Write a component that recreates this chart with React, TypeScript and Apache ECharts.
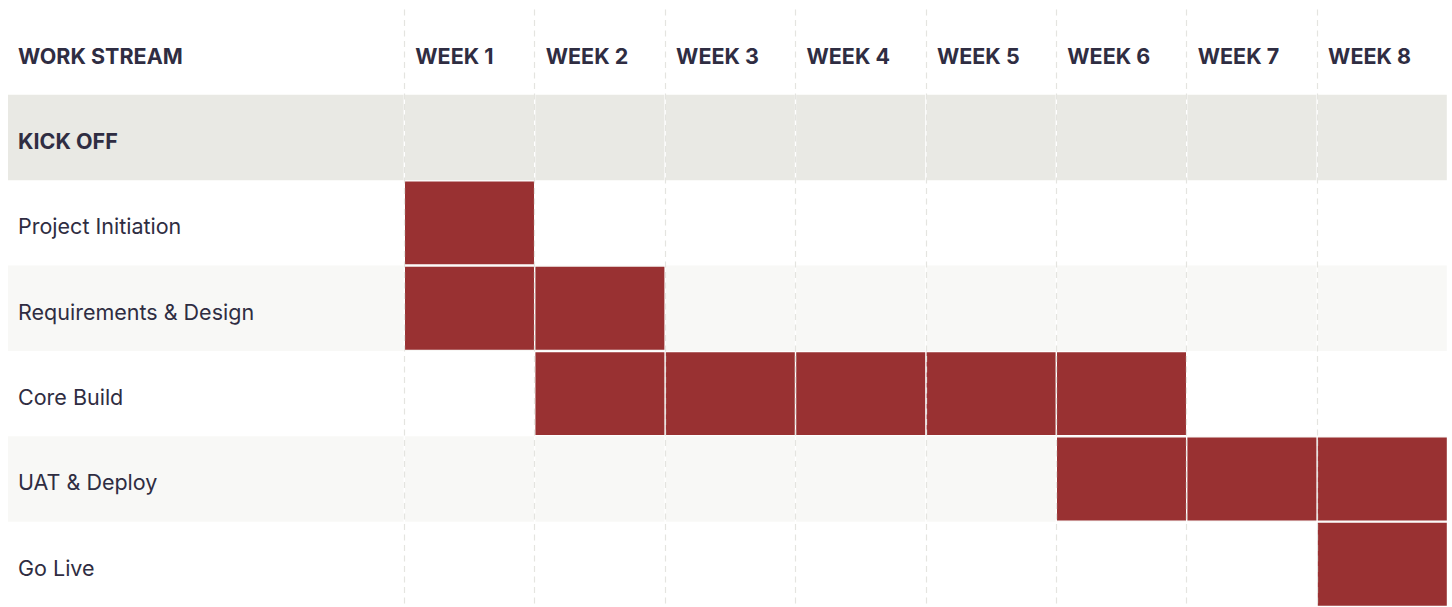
import React, { useEffect, useRef } from 'react';
import * as echarts from 'echarts';

const headerLabel = 'WORK STREAM';
const rows = ['KICK OFF', 'Project Initiation', 'Requirements & Design', 'Core Build', 'UAT & Deploy', 'Go Live'];
const sectionRows = ['KICK OFF'];
const weeks = ['WEEK 1', 'WEEK 2', 'WEEK 3', 'WEEK 4', 'WEEK 5', 'WEEK 6', 'WEEK 7', 'WEEK 8'];
const startWeek: (number | null)[] = [null, 1, 1, 2, 6, 8];
const endWeek: (number | null)[] = [null, 1, 2, 6, 8, 8];

const TEXT = '#2f2d42';
const RED = '#993132';
const SECTION_BG = '#e9e9e4';
const ALT_BG = '#f8f8f6';
const FONT = 'Inter, "Noto Sans", sans-serif';
const FS = 21.5;

export default function App() {
  const ref = useRef<HTMLDivElement>(null);

  useEffect(() => {
    if (!ref.current) return;
    const chart = echarts.init(ref.current, undefined, { renderer: 'svg' });

    const categories = [headerLabel, ...rows];

    const bandData: any[] = [];
    let streamIdx = 0;
    rows.forEach((r, i) => {
      if (sectionRows.includes(r)) {
        bandData.push({ value: [0, i + 1], kind: 'section' });
      } else {
        if (streamIdx % 2 === 1) bandData.push({ value: [0, i + 1], kind: 'alt' });
        streamIdx++;
      }
    });

    const cellData: number[][] = [];
    rows.forEach((_, i) => {
      const s = startWeek[i];
      const e = endWeek[i];
      if (s == null || e == null) return;
      for (let w = s; w <= e; w++) cellData.push([w - 1, i + 1]);
    });

    const option: any = {
      animation: false,
      backgroundColor: '#ffffff',
      grid: { left: 404.3, right: 4.5, top: 9.5, bottom: -1, containLabel: false },
      xAxis: {
        type: 'value',
        min: 0,
        max: weeks.length,
        interval: 1,
        position: 'top',
        z: 10,
        axisLine: { show: false },
        axisTick: { show: false },
        axisLabel: {
          show: true,
          margin: -46,
          align: 'left',
          verticalAlign: 'middle',
          padding: [7, 0, 0, 11],
          color: TEXT,
          fontFamily: FONT,
          fontSize: FS,
          fontWeight: 700,
          formatter: (v: number) => (v < weeks.length ? weeks[v] : ''),
        },
        splitLine: {
          show: true,
          showMinLine: true,
          showMaxLine: false,
          lineStyle: { color: '#e4e4e0', width: 1.2, type: [6, 4.5] },
        },
      },
      yAxis: {
        type: 'category',
        inverse: true,
        data: categories,
        z: 10,
        axisLine: { show: false },
        axisTick: { show: false },
        splitLine: { show: false },
        axisLabel: {
          show: true,
          interval: 0,
          margin: 386.3,
          align: 'left',
          verticalAlign: 'middle',
          formatter: (v: string) =>
            v === headerLabel || sectionRows.includes(v) ? `{b|${v}}` : `{n|${v}}`,
          rich: {
            b: {
              color: TEXT,
              fontFamily: FONT,
              fontSize: FS,
              fontWeight: 700,
              padding: [7, 0, 0, 0],
            },
            n: {
              color: TEXT,
              fontFamily: FONT,
              fontSize: FS,
              fontWeight: 400,
              padding: [7, 0, 0, 0],
            },
          },
        },
      },
      series: [
        {
          type: 'custom',
          z: 1,
          clip: false,
          silent: true,
          data: bandData,
          renderItem: (params: any, api: any) => {
            const item = bandData[params.dataIndex];
            const row = api.value(1);
            const c = api.coord([0, row]);
            const size = api.size([1, 1]);
            const y0 = c[1] - size[1] / 2;
            const h = size[1];
            const fill = item.kind === 'section' ? SECTION_BG : ALT_BG;
            const children: any[] = [
              {
                type: 'rect',
                shape: { x: 8, y: y0, width: params.coordSys.x - 8 - 0.7, height: h },
                style: { fill },
              },
            ];
            for (let w = 0; w < weeks.length; w++) {
              const p = api.coord([w, row]);
              children.push({
                type: 'rect',
                shape: { x: p[0] + 0.7, y: y0, width: size[0] - 1.4, height: h },
                style: { fill },
              });
            }
            return { type: 'group', children };
          },
        },
        {
          type: 'custom',
          z: 2,
          silent: true,
          data: cellData,
          renderItem: (params: any, api: any) => {
            const p = api.coord([api.value(0), api.value(1)]);
            const size = api.size([1, 1]);
            return {
              type: 'rect',
              shape: {
                x: p[0] + 0.7,
                y: p[1] - size[1] / 2 + 1.2,
                width: size[0] - 1.4,
                height: size[1] - 2.4,
              },
              style: { fill: RED },
            };
          },
        },
      ],
    };

    chart.setOption(option);
    return () => chart.dispose();
  }, []);

  return (
    <div
      ref={ref}
      style={{ position: 'fixed', left: 0, top: 0, width: 1452, height: 607, background: '#fff' }}
    />
  );
}
